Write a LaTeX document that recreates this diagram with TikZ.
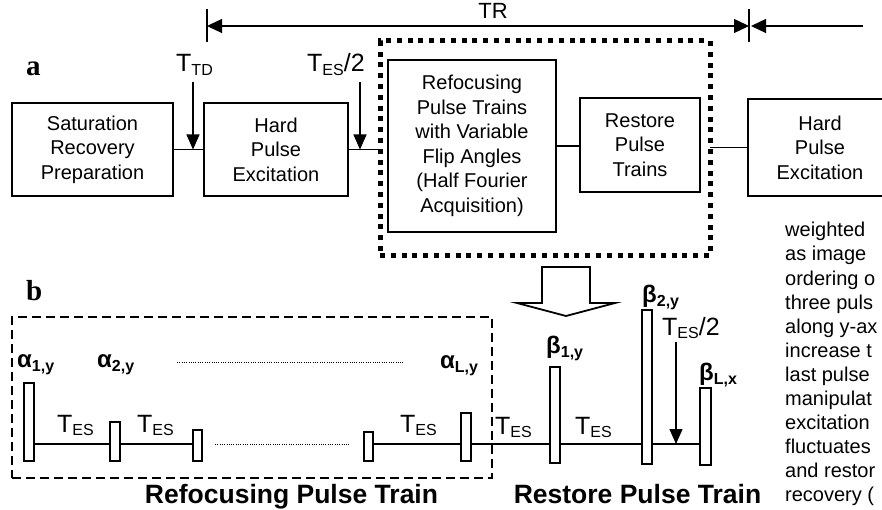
\documentclass[tikz,border=0pt]{standalone}
\usepackage{fontspec}
\setmainfont{Liberation Sans}
\newfontfamily\serifbf{Liberation Serif}
\usetikzlibrary{arrows.meta}
\newcommand{\Tsb}[1]{T\raisebox{-3.5pt}{\fontsize{16}{16}\selectfont #1}}
\newcommand{\gsb}[2]{#1\raisebox{-4pt}{\fontsize{16}{16}\selectfont #2}}
\begin{document}
\begin{tikzpicture}[x=1pt,y=-1pt,
  box/.style={draw, line width=1.4pt, inner sep=0pt, outer sep=0pt, align=center, font=\fontsize{20}{24.5}\selectfont},
  pulse/.style={draw, line width=1.3pt, minimum width=10pt, inner sep=0pt, outer sep=0pt, anchor=south},
  wire/.style={line width=1.3pt},
  arr/.style={line width=1.3pt, -{Triangle[length=15pt,width=13pt]}},
  tlbl/.style={inner sep=0pt, anchor=base west, font=\fontsize{25}{25}\selectfont},
  grk/.style={inner sep=0pt, anchor=base west, font=\bfseries\fontsize{24}{24}\selectfont},
  ttl/.style={inner sep=0pt, anchor=base, font=\bfseries\fontsize{26.5}{26.5}\selectfont},
  side/.style={inner sep=0pt, anchor=base west, font=\fontsize{20}{20}\selectfont},
  panel/.style={inner sep=0pt, anchor=base west, font=\serifbf\bfseries\fontsize{29}{29}\selectfont},
  dotline/.style={line width=0.9pt, dash pattern=on 0.9pt off 1.4pt}
]
\useasboundingbox (0,0) rectangle (882,510);
\clip (0,0) rectangle (882,510);

% ---------- panel a ----------
\node[panel] (la) at (26,76) {a};

\node[box, minimum width=161pt, minimum height=93pt] (sat) at (92.5,149.5) {Saturation\\Recovery\\Preparation};
\node[box, minimum width=144pt, minimum height=93pt] (hard1) at (276,149.5) {Hard\\Pulse\\Excitation};
\node[draw, line width=5pt, dash pattern=on 5pt off 5.8pt, inner sep=0pt, outer sep=0pt,
      minimum width=330pt, minimum height=215pt] (grp) at (545,148.5) {};
\node[box, minimum width=168pt, minimum height=172pt] (refoc) at (472,146) {Refocusing\\Pulse Trains\\with Variable\\Flip Angles\\(Half Fourier\\Acquisition)};
\node[box, minimum width=120pt, minimum height=94pt] (restore) at (640,145) {Restore\\Pulse\\Trains};
\node[box, minimum width=144pt, minimum height=97pt] (hard2) at (820,147.5) {Hard\\Pulse\\Excitation};

\draw[wire] (sat.east) -- (sat.east -| hard1.west);
\draw[wire] (hard1.east) -- (hard1.east -| grp.west);
\draw[wire] (refoc.east) -- (refoc.east -| restore.west);
\draw[wire] (grp.east |- hard2.west) -- (hard2.west);

% timing labels
\node[tlbl] (ttd) at (176,72) {\Tsb{TD}};
\coordinate (ttdA) at (193,82);
\draw[arr] (ttdA) -- (ttdA |- sat.east);
\node[tlbl] (tes2a) at (307,72) {\Tsb{ES}/2};
\coordinate (tesA) at (360,82);
\draw[arr] (tesA) -- (tesA |- hard1.east);

% TR
\coordinate (tick1t) at (207,9);  \coordinate (tick1b) at (207,42);
\coordinate (tick2t) at (749,9);  \coordinate (tick2b) at (749,42);
\draw[wire] (tick1t) -- (tick1b);
\draw[wire] (tick2t) -- (tick2b);
\coordinate (trA) at (207,26); \coordinate (trB) at (749,26);
\coordinate (trC) at (863,26); \coordinate (trD) at (751,26);
\draw[line width=1.3pt, {Triangle[length=15pt,width=14pt]}-{Triangle[length=15pt,width=14pt]}] (trA) -- (trB);
\draw[line width=1.3pt, -{Triangle[length=15pt,width=14pt]}] (trC) -- (trD);
\node[inner sep=0pt, anchor=base, font=\fontsize{22}{22}\selectfont] (tr) at (493,19) {TR};

% ---------- hollow arrow ----------
\draw[line width=1.8pt, line join=miter, fill=white]
  (542,267) -- (590,267) -- (590,303) -- (615,303) -- (566,316) -- (517,303) -- (542,303) -- cycle;

% ---------- panel b ----------
\node[panel] (lb) at (26,300) {b};
\node[draw, line width=1.3pt, dash pattern=on 9pt off 5pt, inner sep=0pt, outer sep=0pt,
      minimum width=480pt, minimum height=161pt] (dbox) at (252,397.5) {};

\coordinate (bl) at (0,444);
\node[pulse, minimum height=78pt] (p1) at (29,461) {};
\node[pulse, minimum height=39pt] (p2) at (115,461) {};
\node[pulse, minimum height=31pt, minimum width=9pt] (p3) at (197.5,461) {};
\node[pulse, minimum height=29pt, minimum width=9pt] (p4) at (368.5,461) {};
\node[pulse, minimum height=48pt] (p5) at (466,461) {};
\node[pulse, minimum height=96pt] (p6) at (555,463) {};
\node[pulse, minimum height=154pt] (p7) at (647,464) {};
\node[pulse, minimum height=77pt, minimum width=11pt] (p8) at (705.5,465) {};

\draw[wire] (p1.east |- bl) -- (p2.west |- bl);
\draw[wire] (p2.east |- bl) -- (p3.west |- bl);
\coordinate (d1a) at (215,444); \coordinate (d1b) at (350,444);
\draw[dotline] (d1a) -- (d1b);
\draw[wire] (p4.east |- bl) -- (p5.west |- bl);
\draw[wire] (p5.east |- bl) -- (p6.west |- bl);
\draw[wire] (p6.east |- bl) -- (p7.west |- bl);
\draw[wire] (p7.east |- bl) -- (p8.west |- bl);

\coordinate (d2a) at (177,362); \coordinate (d2b) at (403,362);
\draw[dotline] (d2a) -- (d2b);

% flip-angle labels
\node[grk] (a1) at (17,367) {\gsb{α}{1,y}};
\node[grk] (a2) at (97,367) {\gsb{α}{2,y}};
\node[grk] (aL) at (440,368) {\gsb{α}{L,y}};
\node[grk] (b1) at (546,353) {\gsb{β}{1,y}};
\node[grk] (b2) at (642,302) {\gsb{β}{2,y}};
\node[grk] (bL) at (699,380) {\gsb{β}{L,x}};

% echo spacing labels
\node[tlbl] (e1) at (57,432) {\Tsb{ES}};
\node[tlbl] (e2) at (137,432) {\Tsb{ES}};
\node[tlbl] (e3) at (400,432) {\Tsb{ES}};
\node[tlbl] (e4) at (495,434) {\Tsb{ES}};
\node[tlbl] (e5) at (575,434) {\Tsb{ES}};
\node[tlbl] (e6) at (662,335) {\Tsb{ES}/2};
\coordinate (tesB) at (676,342);
\draw[arr] (tesB) -- (tesB |- bl);

% titles
\node[ttl] (t1) at (291.5,503) {Refocusing Pulse Train};
\node[ttl] (t2) at (637.5,503) {Restore Pulse Train};

% clipped side text
\foreach \s [count=\i from 0] in {weighted,as image,ordering o,three puls,along y-ax,increase t,last pulse,manipulat,excitation,fluctuates,and restor,recovery (}
  \node[side] (side\i) at (785,{237+24*\i}) {\s};
\end{tikzpicture}
\end{document}
